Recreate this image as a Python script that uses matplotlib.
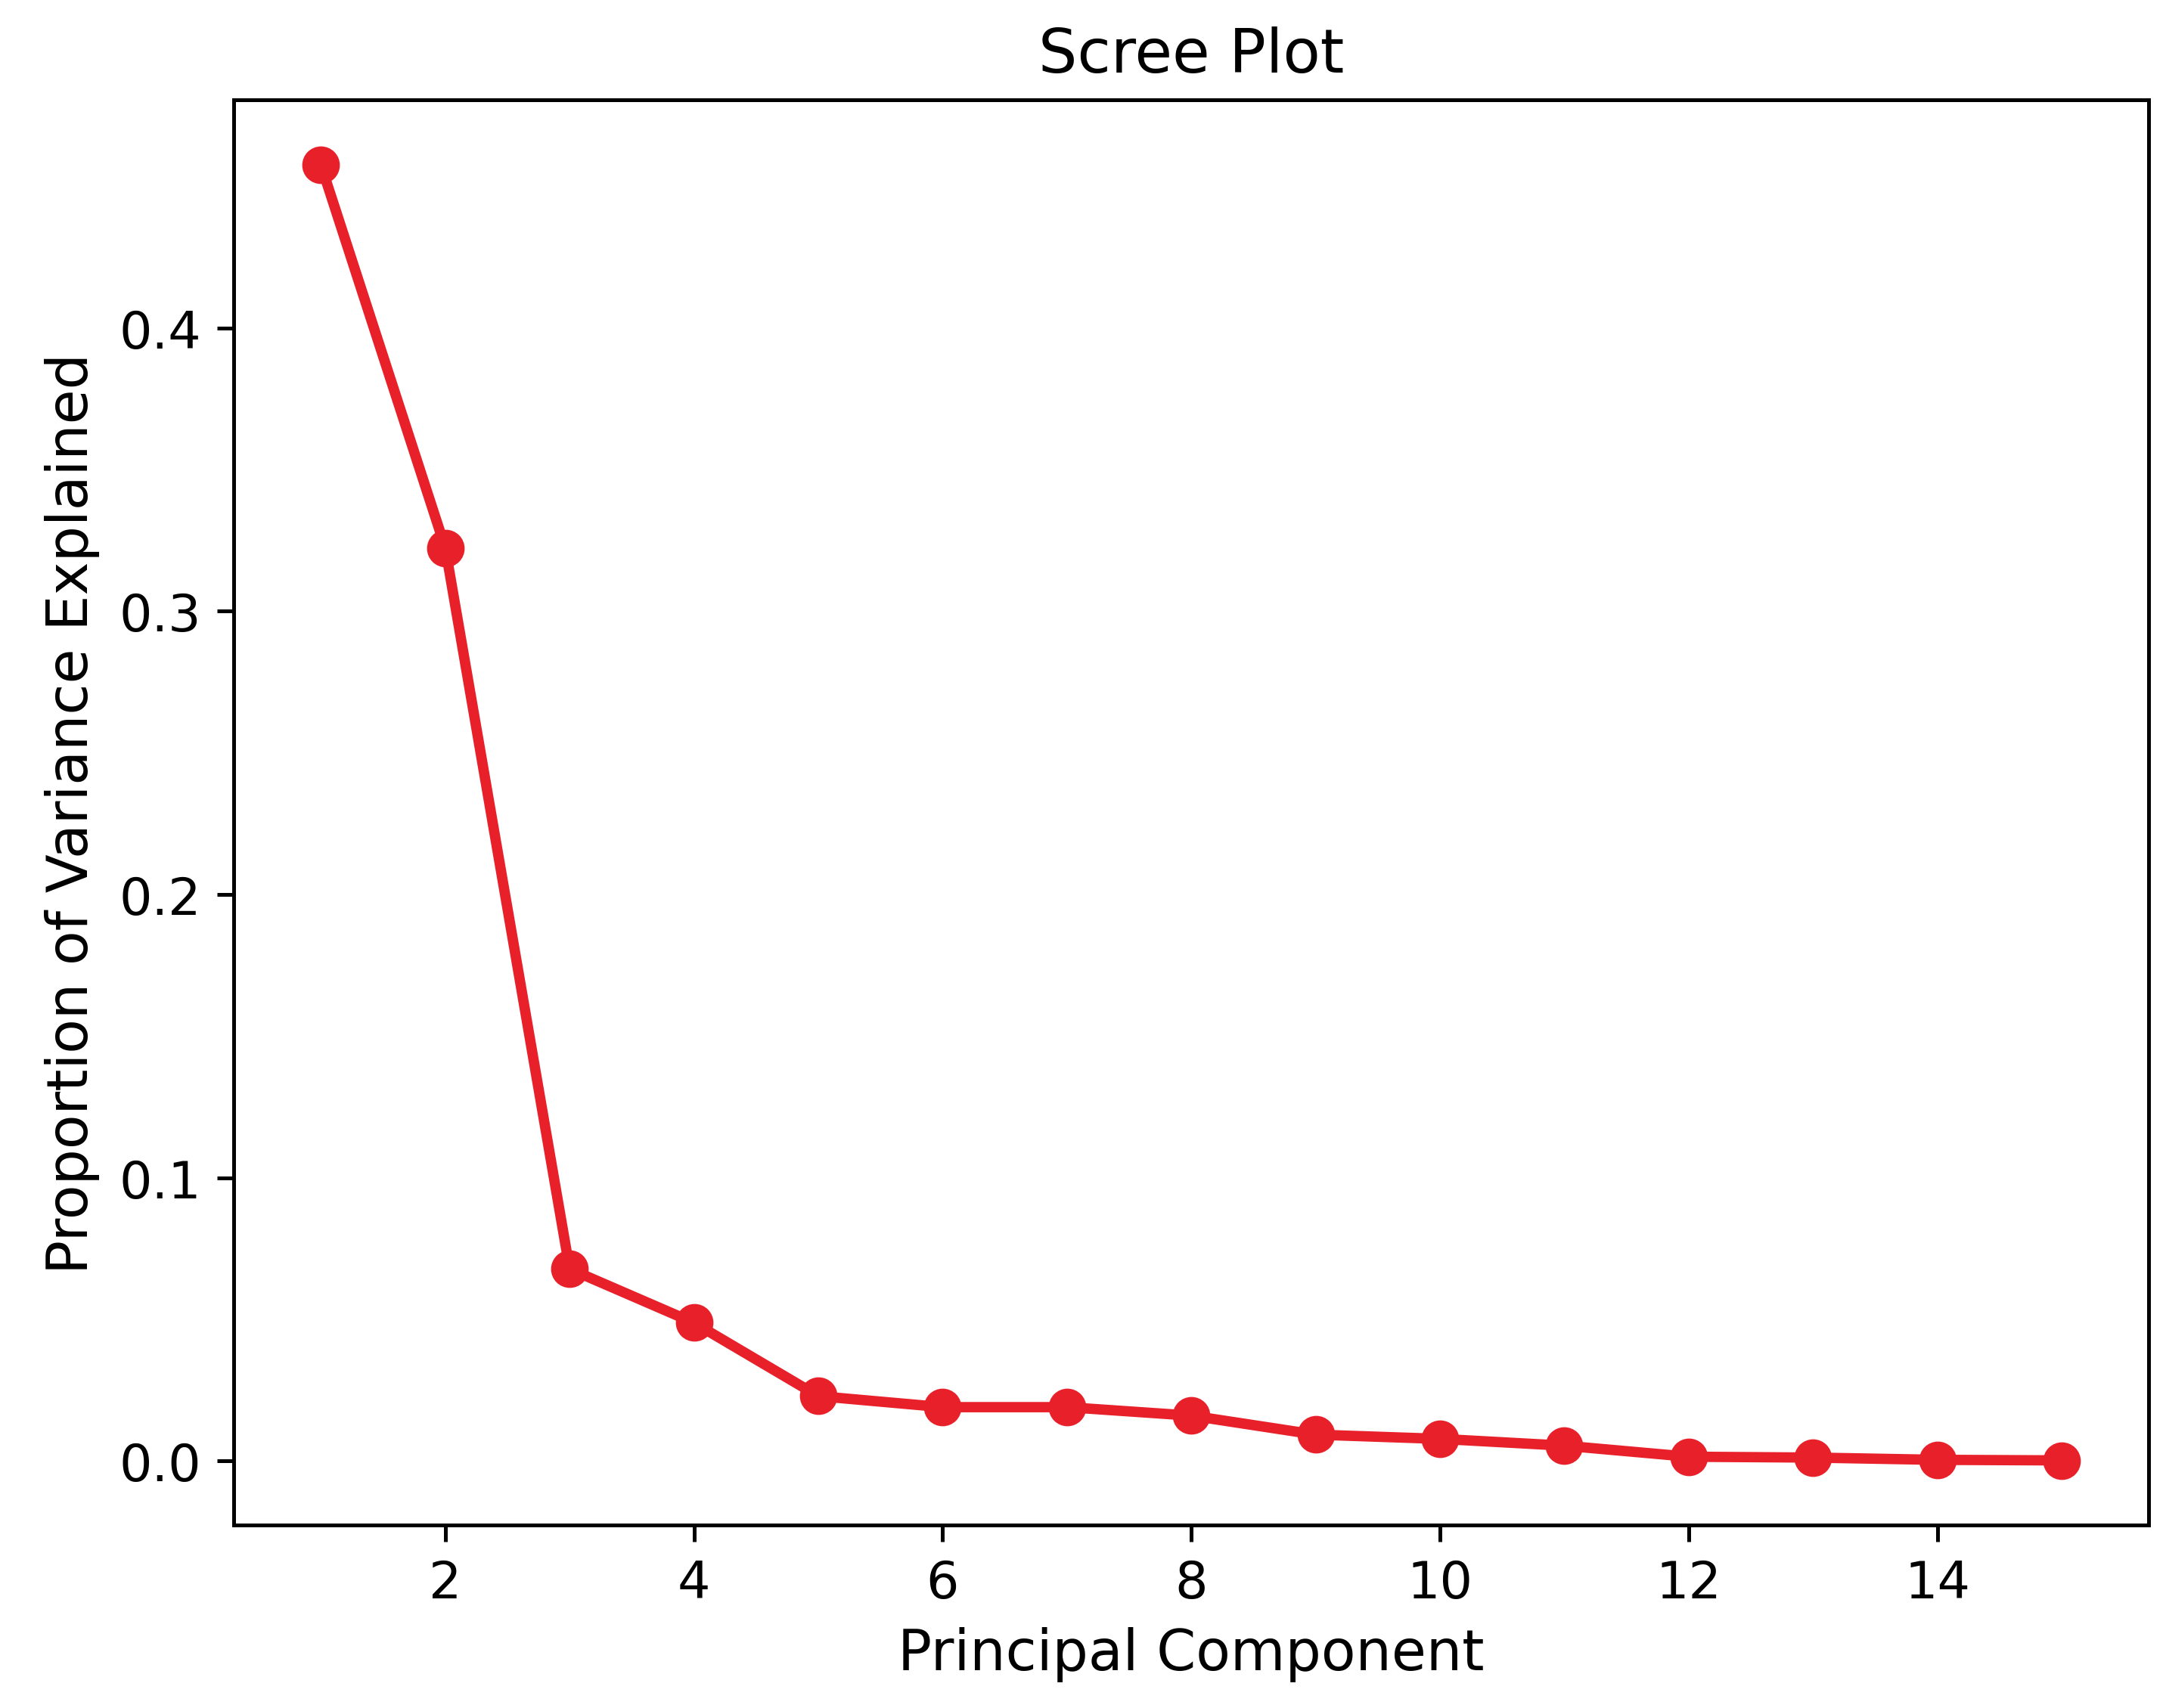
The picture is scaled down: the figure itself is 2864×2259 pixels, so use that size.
import matplotlib
matplotlib.use("Agg")
import matplotlib.pyplot as plt

# 主成分番号と寄与率
components = list(range(1, 16))
variance_ratio = [0.4576, 0.3224, 0.0678, 0.0488, 0.0229, 0.0190, 0.0190, 0.0160,
                  0.0093, 0.0078, 0.0054, 0.0015, 0.0012, 0.0004, 0.0002]

fig = plt.figure(figsize=(6.4, 5.05), dpi=447.5)
ax = fig.add_axes([0.108, 0.107, 0.884, 0.834])

ax.plot(components, variance_ratio, marker='o', color='#e8202a',
        linewidth=2.2, markersize=7)

ax.set_title('Scree Plot', fontsize=13)
ax.set_xlabel('Principal Component', fontsize=12)
ax.set_ylabel('Proportion of Variance Explained', fontsize=12)
ax.tick_params(labelsize=11)
ax.set_xticks([2, 4, 6, 8, 10, 12, 14])
ax.set_yticks([0.0, 0.1, 0.2, 0.3, 0.4])

fig.savefig('out.png')
